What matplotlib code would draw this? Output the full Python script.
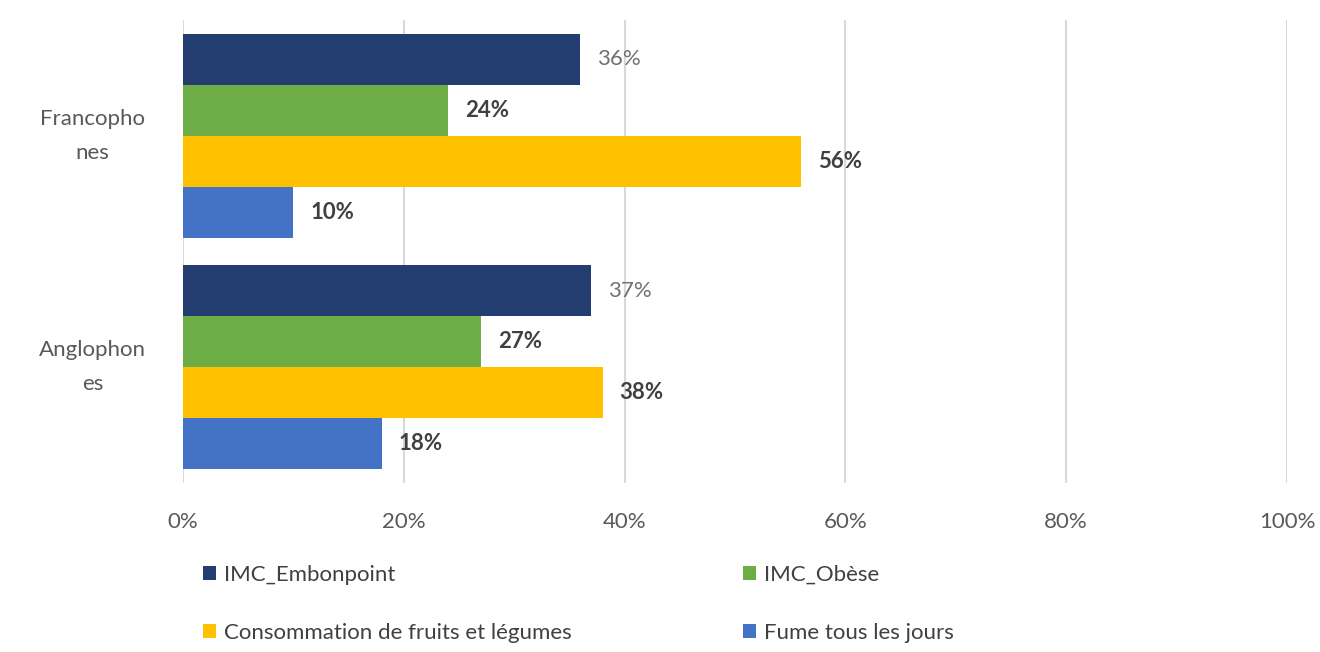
import numpy as np
import matplotlib.pyplot as plt
from matplotlib.patches import Patch
from matplotlib.ticker import PercentFormatter

plt.rcParams["font.family"] = ["Lato", "DejaVu Sans"]

# groups (top to bottom) and series values in percent
groups = ["Francopho\nnes", "Anglophon\nes"]
series = ["IMC_Embonpoint", "IMC_Obèse",
          "Consommation de fruits et légumes", "Fume tous les jours"]
embonpoint = [36, 37]
obese = [24, 27]
fruits_legumes = [56, 38]
fume = [10, 18]

values = [embonpoint, obese, fruits_legumes, fume]
colors = ["#233D70", "#6DAD46", "#FFC000", "#4472C4"]
label_colors = ["#707070", "#404040", "#404040", "#404040"]
label_weights = ["normal", "bold", "bold", "bold"]
fs = 16

fig = plt.figure(figsize=(13.2, 6.52), dpi=100)
ax = fig.add_axes([183 / 1320, 169 / 652, 1104 / 1320, 463 / 652])

y = np.arange(len(groups))
h = 0.22
for i, (vals, col) in enumerate(zip(values, colors)):
    pos = y - 1.5 * h + i * h
    bars = ax.barh(pos, vals, height=h, color=col, zorder=3)
    for b, v in zip(bars, vals):
        ax.annotate(f"{v}%", (b.get_width(), b.get_y() + b.get_height() / 2),
                    xytext=(12, 0), textcoords="offset points",
                    va="center", ha="left", fontsize=fs,
                    color=label_colors[i], fontweight=label_weights[i])

ax.set_xlim(0, 100)
ax.set_ylim(1.5, -0.5)
ax.set_xticks(range(0, 101, 20))
ax.xaxis.set_major_formatter(PercentFormatter(decimals=0))
ax.set_yticks(y)
ax.set_yticklabels(groups, ha="center", va="center", linespacing=1.9)
ax.tick_params(axis="y", length=0, pad=65, labelsize=fs, labelcolor="#595959")
ax.tick_params(axis="x", length=0, pad=21, labelsize=fs, labelcolor="#595959")

ax.grid(axis="x", color="#D9D9D9", linewidth=1.5, zorder=0)
for s in ax.spines.values():
    s.set_visible(False)

# legend filled row by row: two columns
order = [0, 2, 1, 3]
handles = [Patch(facecolor=colors[k], edgecolor="none") for k in order]
labels = [series[k] for k in order]
fig.legend(handles, labels, loc="upper left", bbox_to_anchor=(203 / 1320, 1 - 565 / 652),
           ncol=2, frameon=False, fontsize=fs, labelcolor="#404040",
           handlelength=0.6, handleheight=0.6, handletextpad=0.35,
           columnspacing=7.7, labelspacing=1.7, borderaxespad=0, borderpad=0)

fig.savefig("out.png", dpi=100, facecolor="white")
